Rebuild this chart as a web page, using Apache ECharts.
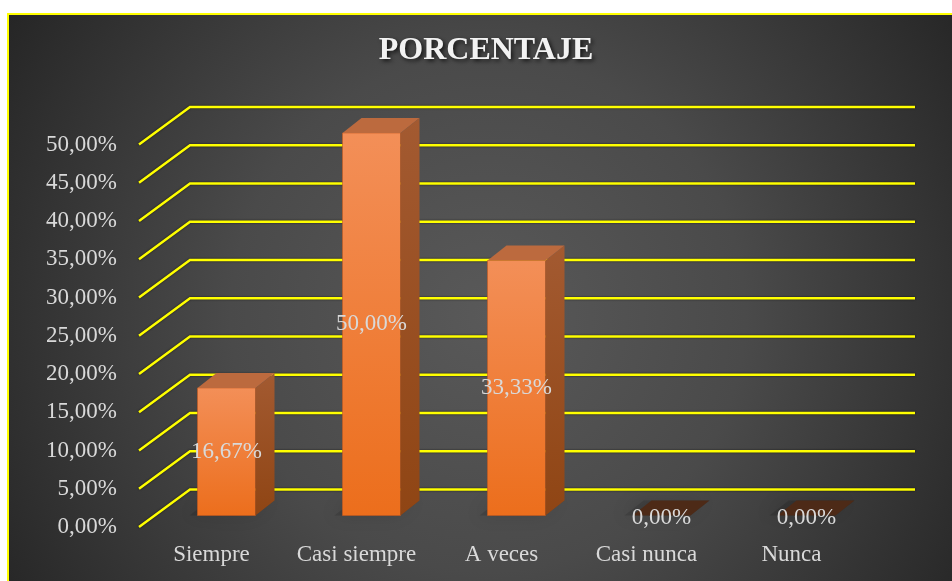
<!DOCTYPE html>
<html lang="es">
<head>
<meta charset="UTF-8">
<title>Porcentaje</title>
<script src="https://cdn.jsdelivr.net/npm/echarts@6/dist/echarts.min.js"></script>
<style>
  html, body { margin: 0; padding: 0; background: #fff; }
  #chart { width: 952px; height: 581px; }
</style>
</head>
<body>
<div id="chart"></div>
<script>
  // categorías y valores en porcentaje
  var categorias = ['Siempre', 'Casi siempre', 'A veces', 'Casi nunca', 'Nunca'];
  var valores = [16.67, 50.00, 33.33, 0.00, 0.00];
  var marcas = [0, 5, 10, 15, 20, 25, 30, 35, 40, 45, 50];

  var FUENTE = '"Liberation Serif", "Times New Roman", serif';
  var fondoX = 51, fondoY = 37.5;   // desplazamiento de la pared del fondo

  function pct(v) {
    return v.toFixed(2).replace('.', ',') + '%';
  }

  // líneas de la cuadrícula en perspectiva
  function renderLinea(params, api) {
    var cs = params.coordSys;
    var y = api.coord([0, api.value(1)])[1];
    var x0 = cs.x, x1 = cs.x + cs.width;
    return {
      type: 'polyline',
      shape: { points: [[x0, y], [x0 + fondoX, y - fondoY], [x1 + fondoX, y - fondoY]] },
      style: { stroke: '#ffff00', lineWidth: 2.5, fill: null,
               shadowColor: 'rgba(0,0,0,0.7)', shadowBlur: 2 }
    };
  }

  // barras 3D
  function renderBarra(params, api) {
    var i = api.value(0), v = api.value(1);
    var base = api.coord([i, 0]), tope = api.coord([i, v]);
    var cx = base[0] + 15, by = base[1] - 11.5, ty = tope[1] - 11.5;
    var w = 29, dx = 19, dy = 15;
    var hijos = [];

    // sombra difusa en el suelo
    hijos.push({
      type: 'polygon',
      shape: { points: [[cx - w - 8, by], [cx + w, by], [cx + w + dx, by - dy], [cx - w + dx - 8, by - dy]] },
      style: { fill: 'rgba(0,0,0,0.12)', shadowBlur: 18, shadowOffsetX: -4,
               shadowColor: 'rgba(0,0,0,1)' }
    });

    if (ty < by) {
      hijos.push({
        type: 'rect',
        shape: { x: cx - w, y: ty, width: 2 * w, height: by - ty },
        style: {
          fill: { type: 'linear', x: 0, y: 0, x2: 0, y2: 1,
                  colorStops: [{ offset: 0, color: '#f38f58' }, { offset: 1, color: '#ec6e1c' }] },
          stroke: 'rgba(200,90,30,0.6)', lineWidth: 1
        }
      });
      hijos.push({
        type: 'polygon',
        shape: { points: [[cx + w, ty], [cx + w + dx, ty - dy], [cx + w + dx, by - dy], [cx + w, by]] },
        style: {
          fill: { type: 'linear', x: 0, y: 0, x2: 0, y2: 1,
                  colorStops: [{ offset: 0, color: '#a35a31' }, { offset: 1, color: '#8f4514' }] }
        }
      });
    }
    hijos.push({
      type: 'polygon',
      shape: { points: [[cx - w, ty], [cx + w, ty], [cx + w + dx, ty - dy], [cx - w + dx, ty - dy]] },
      style: { fill: v > 0 ? '#bc6a3e' : '#4d2a17' }
    });
    hijos.push({
      type: 'text',
      style: {
        text: pct(v), x: cx, y: (by + ty) / 2 + (v > 0 ? 0 : 2),
        align: 'center', verticalAlign: 'middle',
        fill: '#d9d9d9', fontSize: 23, fontFamily: FUENTE
      }
    });
    return { type: 'group', children: hijos };
  }

  var chart = echarts.init(document.getElementById('chart'));

  var option = {
    animation: false,
    graphic: [
      {
        type: 'rect', z: -10,
        shape: { x: 8, y: 14, width: 960, height: 600 },
        style: {
          fill: { type: 'radial', x: 0.5, y: 0.5, r: 0.95,
                  colorStops: [{ offset: 0, color: '#595959' }, { offset: 0.45, color: '#4a4a4a' },
                               { offset: 1, color: '#252525' }] },
          stroke: '#ffff00', lineWidth: 2
        }
      },
      {
        type: 'text', z: 10, x: 486, y: 51,
        style: {
          text: 'PORCENTAJE', align: 'center', verticalAlign: 'middle',
          fill: '#f2f2f2', fontSize: 32, fontWeight: 'bold', fontFamily: FUENTE,
          textShadowColor: 'rgba(0,0,0,0.75)', textShadowBlur: 4,
          textShadowOffsetX: 2, textShadowOffsetY: 2
        }
      }
    ],
    grid: { left: 139, right: 88, top: 144.5, bottom: 54 },
    xAxis: {
      type: 'category',
      data: categorias,
      axisLine: { show: false },
      axisTick: { show: false },
      splitLine: { show: false },
      axisLabel: { interval: 0, color: '#d9d9d9', fontSize: 23, fontFamily: FUENTE, margin: 16 }
    },
    yAxis: {
      type: 'value',
      min: 0, max: 50, interval: 5,
      axisLine: { show: false },
      axisTick: { show: false },
      splitLine: { show: false },
      axisLabel: { color: '#d9d9d9', fontSize: 23, fontFamily: FUENTE, margin: 22,
                   formatter: function (v) { return pct(v); } }
    },
    series: [
      {
        name: 'cuadricula',
        type: 'custom',
        z: 1,
        silent: true,
        renderItem: renderLinea,
        data: marcas.map(function (m) { return [0, m]; })
      },
      {
        name: 'PORCENTAJE',
        type: 'custom',
        z: 3,
        renderItem: renderBarra,
        data: valores.map(function (v, i) { return [i, v]; })
      }
    ]
  };

  chart.setOption(option);
</script>
</body>
</html>
